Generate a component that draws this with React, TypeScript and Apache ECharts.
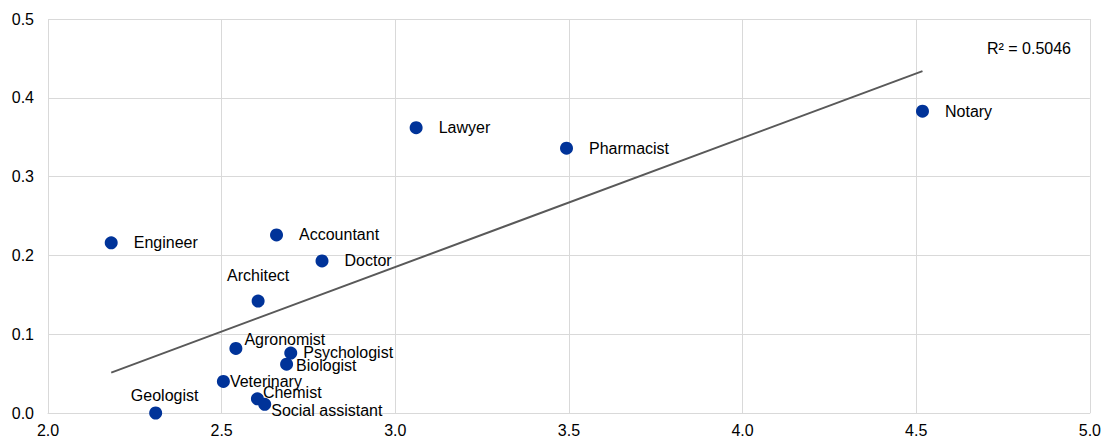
import React, { useEffect, useRef } from "react";
import * as echarts from "echarts";

const professions = ["Engineer", "Geologist", "Veterinary", "Agronomist", "Architect", "Chemist", "Social assistant", "Accountant", "Biologist", "Psychologist", "Doctor", "Lawyer", "Pharmacist", "Notary"];
const xValues = [2.182, 2.31, 2.505, 2.541, 2.605, 2.603, 2.624, 2.658, 2.687, 2.699, 2.789, 3.06, 3.493, 4.518];
const yValues = [0.216, 0.0, 0.04, 0.082, 0.142, 0.018, 0.011, 0.226, 0.062, 0.076, 0.193, 0.362, 0.336, 0.383];
const xTicks = ["2.0", "2.5", "3.0", "3.5", "4.0", "4.5", "5.0"];
const yTicks = ["0.0", "0.1", "0.2", "0.3", "0.4", "0.5"];
const rSquaredText = "R² = 0.5046";

// label placement per profession (style only)
const labelPlacement: Record<string, { position: string; distance: number; offset: [number, number] }> = {
  Engineer: { position: "right", distance: 16, offset: [0, 0] },
  Accountant: { position: "right", distance: 16, offset: [0, 0] },
  Doctor: { position: "right", distance: 16, offset: [0, 0] },
  Lawyer: { position: "right", distance: 16, offset: [0, 0] },
  Pharmacist: { position: "right", distance: 16, offset: [0, 0] },
  Notary: { position: "right", distance: 16, offset: [0, 0] },
  Architect: { position: "top", distance: 11, offset: [0, 0] },
  Geologist: { position: "top", distance: 3, offset: [9, 0] },
  Agronomist: { position: "right", distance: 2, offset: [0, -9] },
  Psychologist: { position: "right", distance: 6, offset: [0, -1] },
  Biologist: { position: "right", distance: 3, offset: [0, 1] },
  Veterinary: { position: "right", distance: 0, offset: [0, 0] },
  Chemist: { position: "right", distance: -1, offset: [0, -6] },
  "Social assistant": { position: "right", distance: 0, offset: [0, 6] },
};

function regression(xs: number[], ys: number[]) {
  const n = xs.length;
  const mx = xs.reduce((a, b) => a + b, 0) / n;
  const my = ys.reduce((a, b) => a + b, 0) / n;
  let sxy = 0, sxx = 0;
  for (let i = 0; i < n; i++) {
    sxy += (xs[i] - mx) * (ys[i] - my);
    sxx += (xs[i] - mx) * (xs[i] - mx);
  }
  const slope = sxy / sxx;
  return { slope, intercept: my - slope * mx };
}

export default function App() {
  const ref = useRef<HTMLDivElement>(null);
  useEffect(() => {
    if (!ref.current) return;
    const chart = echarts.init(ref.current, undefined, { renderer: "svg" });
    const font = "'Liberation Sans', Arial, sans-serif";
    const { slope, intercept } = regression(xValues, yValues);
    const xMin = Math.min(...xValues);
    const xMax = Math.max(...xValues);
    const trend = [
      [xMin, intercept + slope * xMin],
      [xMax, intercept + slope * xMax],
    ];
    const points = professions.map((name, i) => {
      const p = labelPlacement[name];
      return {
        name,
        value: [xValues[i], yValues[i]],
        label: {
          show: true,
          formatter: name,
          position: p.position,
          distance: p.distance,
          offset: p.offset,
          color: "#000",
          fontSize: 16,
          fontFamily: font,
        },
      };
    });
    chart.setOption({
      animation: false,
      backgroundColor: "#fff",
      grid: { left: 48, right: 12, top: 19, bottom: 26, containLabel: false },
      xAxis: {
        type: "value",
        min: 2,
        max: 5,
        interval: 0.5,
        axisLine: { show: true, lineStyle: { color: "#d9d9d9", width: 1 } },
        axisTick: { show: false },
        splitLine: { show: true, lineStyle: { color: "#d9d9d9", width: 1 } },
        axisLabel: {
          formatter: (v: number) => xTicks[Math.round((v - 2) / 0.5)] ?? "",
          color: "#000",
          fontSize: 16,
          fontFamily: font,
          margin: 9,
        },
      },
      yAxis: {
        type: "value",
        min: 0,
        max: 0.5,
        interval: 0.1,
        axisLine: { show: false },
        axisTick: { show: false },
        splitLine: { show: true, lineStyle: { color: "#d9d9d9", width: 1 } },
        axisLabel: {
          formatter: (v: number) => yTicks[Math.round(v / 0.1)] ?? "",
          color: "#000",
          fontSize: 16,
          fontFamily: font,
          margin: 14,
        },
      },
      graphic: [
        {
          type: "text",
          right: 1104 - 1071,
          top: 40,
          style: { text: rSquaredText, fill: "#000", font: `16px ${font}` },
        },
      ],
      series: [
        {
          type: "line",
          data: trend,
          showSymbol: false,
          symbol: "none",
          lineStyle: { color: "#595959", width: 2 },
          silent: true,
          z: 3,
        },
        {
          type: "scatter",
          data: points,
          symbol: "circle",
          symbolSize: 13,
          itemStyle: { color: "#003399", opacity: 1 },
          z: 2,
        },
      ],
    });
    return () => chart.dispose();
  }, []);
  return <div ref={ref} style={{ position: "fixed", left: 0, top: 0, width: 1104, height: 439 }} />;
}
